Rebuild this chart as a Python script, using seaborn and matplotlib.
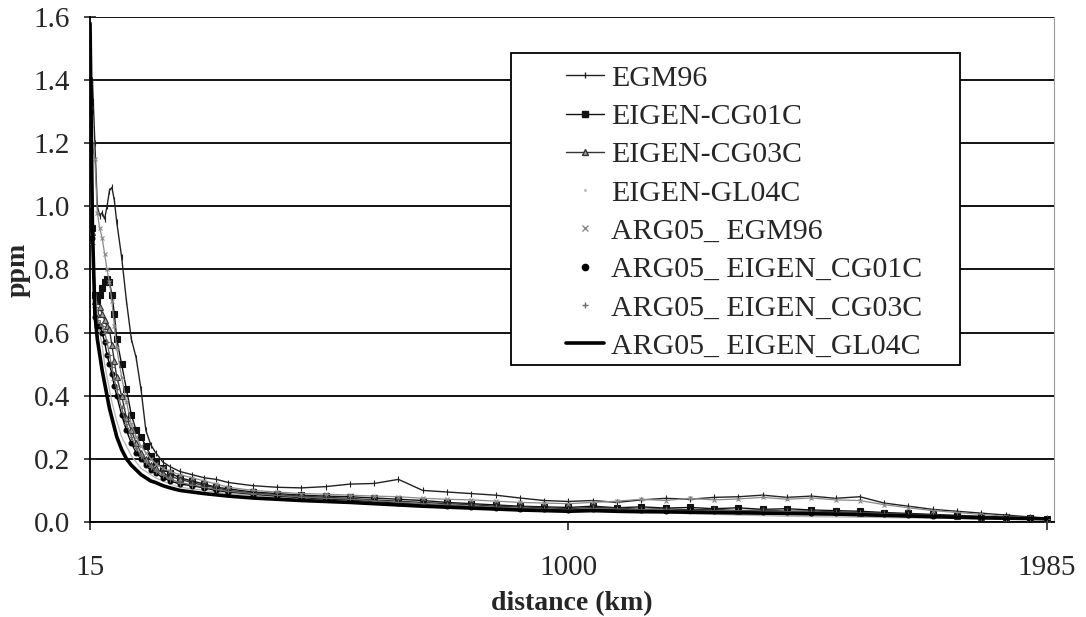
import numpy as np
import pandas as pd
import seaborn as sns
import matplotlib.pyplot as plt
from matplotlib.lines import Line2D
from matplotlib.patches import Rectangle

# distance along profile (km)
distance = [15, 20, 25, 30, 35, 40, 45, 50, 55, 60, 65, 70, 80, 90, 100, 110, 120, 130, 140, 150, 165, 180, 200,
            225, 250, 275, 300, 350, 400, 450, 500, 550, 600, 650, 700, 750, 800, 850, 900, 950, 1000,
            1050, 1100, 1150, 1200, 1250, 1300, 1350, 1400, 1450, 1500, 1550, 1600, 1650, 1700, 1750, 1800,
            1850, 1900, 1950, 1985]

egm96 = [1.15, 1.40, 1.20, 1.00, 0.97, 0.98, 0.96, 1.00, 1.05, 1.06, 1.02, 0.95, 0.84, 0.70, 0.58, 0.52, 0.42,
         0.29, 0.245, 0.22, 0.19, 0.175, 0.16,
         0.15, 0.14, 0.135, 0.125, 0.115, 0.11, 0.108, 0.112, 0.12, 0.122, 0.135, 0.10, 0.095, 0.09, 0.085,
         0.076, 0.068, 0.065, 0.068, 0.062, 0.07, 0.075, 0.072, 0.078, 0.08, 0.085, 0.078, 0.082, 0.075,
         0.08, 0.06, 0.05, 0.04, 0.034, 0.028, 0.022, 0.016, 0.012]
eigen_cg01c = [1.33, 0.93, 0.72, 0.70, 0.72, 0.74, 0.76, 0.77, 0.76, 0.72, 0.66, 0.58, 0.50, 0.42, 0.34, 0.29,
               0.27, 0.24, 0.21, 0.19, 0.17, 0.155, 0.14,
               0.13, 0.12, 0.11, 0.105, 0.095, 0.09, 0.085, 0.082, 0.08, 0.076, 0.072, 0.068, 0.062, 0.058,
               0.054, 0.05, 0.048, 0.046, 0.05, 0.045, 0.048, 0.044, 0.046, 0.042, 0.045, 0.04, 0.042, 0.038,
               0.036, 0.034, 0.03, 0.027, 0.024, 0.021, 0.018, 0.015, 0.012, 0.01]
eigen_cg03c = [1.18, 0.92, 0.70, 0.66, 0.68, 0.66, 0.64, 0.62, 0.61, 0.56, 0.51, 0.46, 0.40, 0.33, 0.29, 0.25,
               0.22, 0.20, 0.18, 0.17, 0.155, 0.145, 0.135,
               0.125, 0.115, 0.108, 0.10, 0.092, 0.086, 0.082, 0.078, 0.075, 0.07, 0.066, 0.062, 0.058, 0.055,
               0.05, 0.048, 0.045, 0.042, 0.046, 0.044, 0.04, 0.042, 0.038, 0.04, 0.036, 0.038, 0.034, 0.035,
               0.032, 0.03, 0.028, 0.025, 0.022, 0.019, 0.016, 0.014, 0.012, 0.01]
eigen_gl04c = [1.50, 1.00, 0.75, 0.66, 0.60, 0.56, 0.50, 0.46, 0.42, 0.38, 0.35, 0.32, 0.27, 0.24, 0.21, 0.19,
               0.17, 0.16, 0.15, 0.14, 0.13, 0.12, 0.11,
               0.105, 0.10, 0.095, 0.09, 0.084, 0.078, 0.072, 0.068, 0.064, 0.06, 0.056, 0.052, 0.048, 0.044,
               0.04, 0.036, 0.034, 0.032, 0.035, 0.03, 0.028, 0.03, 0.026, 0.024, 0.022, 0.02, 0.018, 0.017,
               0.016, 0.015, 0.014, 0.013, 0.012, 0.012, 0.011, 0.01, 0.01, 0.009]
arg05_egm96 = [1.00, 1.20, 1.15, 0.98, 0.93, 0.90, 0.85, 0.80, 0.76, 0.70, 0.62, 0.55, 0.46, 0.38, 0.31, 0.27,
               0.24, 0.22, 0.20, 0.185, 0.17, 0.16, 0.15,
               0.14, 0.13, 0.12, 0.11, 0.10, 0.095, 0.09, 0.088, 0.085, 0.082, 0.08, 0.075, 0.072, 0.07,
               0.066, 0.062, 0.06, 0.058, 0.062, 0.066, 0.072, 0.068, 0.075, 0.07, 0.073, 0.078, 0.072, 0.076,
               0.07, 0.068, 0.055, 0.045, 0.036, 0.03, 0.024, 0.018, 0.014, 0.011]
arg05_eigen_cg01c = [1.30, 0.90, 0.65, 0.62, 0.62, 0.60, 0.57, 0.53, 0.50, 0.47, 0.43, 0.40, 0.34, 0.29, 0.25,
                     0.22, 0.20, 0.18, 0.165, 0.155, 0.14, 0.13, 0.12,
                     0.115, 0.108, 0.10, 0.095, 0.088, 0.082, 0.077, 0.073, 0.07, 0.065, 0.06, 0.056, 0.052,
                     0.048, 0.045, 0.042, 0.04, 0.038, 0.042, 0.04, 0.038, 0.036, 0.037, 0.035, 0.034, 0.033,
                     0.032, 0.03, 0.028, 0.027, 0.025, 0.022, 0.02, 0.018, 0.015, 0.013, 0.011, 0.01]
arg05_eigen_cg03c = [1.25, 0.88, 0.68, 0.64, 0.63, 0.62, 0.60, 0.57, 0.53, 0.49, 0.45, 0.42, 0.36, 0.31, 0.27,
                     0.235, 0.21, 0.19, 0.175, 0.16, 0.148, 0.136, 0.125,
                     0.118, 0.11, 0.103, 0.097, 0.09, 0.084, 0.079, 0.075, 0.072, 0.067, 0.062, 0.058, 0.054,
                     0.05, 0.047, 0.044, 0.041, 0.039, 0.043, 0.041, 0.039, 0.038, 0.036, 0.036, 0.035, 0.034,
                     0.033, 0.031, 0.029, 0.028, 0.026, 0.023, 0.021, 0.018, 0.016, 0.014, 0.012, 0.01]
arg05_eigen_gl04c = [1.58, 0.93, 0.66, 0.58, 0.53, 0.48, 0.44, 0.40, 0.36, 0.33, 0.30, 0.27, 0.23, 0.20, 0.18,
                     0.165, 0.15, 0.14, 0.13, 0.125, 0.115, 0.108, 0.10,
                     0.095, 0.09, 0.086, 0.082, 0.076, 0.072, 0.068, 0.065, 0.062, 0.058, 0.054, 0.05, 0.047,
                     0.044, 0.041, 0.038, 0.036, 0.034, 0.036, 0.034, 0.033, 0.032, 0.031, 0.03, 0.029, 0.028,
                     0.027, 0.026, 0.025, 0.023, 0.021, 0.019, 0.017, 0.015, 0.013, 0.012, 0.011, 0.01]

series_labels = ["EGM96", "EIGEN-CG01C", "EIGEN-CG03C", "EIGEN-GL04C",
                 "ARG05_ EGM96", "ARG05_ EIGEN_CG01C", "ARG05_ EIGEN_CG03C", "ARG05_ EIGEN_GL04C"]
series_values = [egm96, eigen_cg01c, eigen_cg03c, eigen_gl04c,
                 arg05_egm96, arg05_eigen_cg01c, arg05_eigen_cg03c, arg05_eigen_gl04c]

# long form table for seaborn
df = pd.concat([pd.DataFrame({"distance": distance, "ppm": vals, "series": name})
                for name, vals in zip(series_labels, series_values)], ignore_index=True)

# line style per series: (colour, linewidth, marker, markersize, marker face, show line in legend)
styles = {
    "EGM96": ("#222222", 1.0, "|", 4, "#222222", True),
    "EIGEN-CG01C": ("#111111", 1.0, "s", 4, "#111111", True),
    "EIGEN-CG03C": ("#333333", 1.0, "^", 4, "#999999", True),
    "EIGEN-GL04C": ("#b5b5b5", 0.9, None, 0, "#b5b5b5", False),
    "ARG05_ EGM96": ("#8a8a8a", 0.9, "x", 3.5, "#8a8a8a", False),
    "ARG05_ EIGEN_CG01C": ("#000000", 1.0, "o", 3.5, "#000000", False),
    "ARG05_ EIGEN_CG03C": ("#6a6a6a", 0.9, "+", 4, "#6a6a6a", False),
    "ARG05_ EIGEN_GL04C": ("#000000", 2.6, None, 0, "#000000", True),
}

sns.set_style("white")
plt.rcParams['font.family'] = ['Liberation Serif', 'DejaVu Serif']

fig = plt.figure(figsize=(10.86, 6.17), dpi=100)
ax = fig.add_axes([0.0829, 0.154, 0.8877, 0.8185])

for i, name in enumerate(series_labels):
    color, lw, marker, ms, mfc, _ = styles[name]
    sub = df[df["series"] == name]
    sns.lineplot(data=sub, x="distance", y="ppm", ax=ax, color=color, linewidth=lw,
                 marker=marker, markersize=ms, markerfacecolor=mfc, markeredgecolor=color,
                 markeredgewidth=0.8, legend=False, zorder=3 + i)

ax.set_xlim(15, 2000)
ax.set_ylim(0, 1.6)
ax.set_xticks([15, 1000, 1985])
ax.set_yticks(np.arange(0, 1.61, 0.2))
ax.yaxis.set_major_formatter('{x:.1f}')
ax.grid(axis="y", color="black", linewidth=1.3, zorder=1)
ax.set_axisbelow(True)

ax.spines["top"].set_visible(False)
ax.spines["right"].set_color("#999999")
ax.spines["right"].set_linewidth(0.8)
ax.spines["right"].set_linestyle((0, (1, 1)))
ax.spines["left"].set_color("black")
ax.spines["left"].set_linewidth(1.3)
ax.spines["bottom"].set_color("black")
ax.spines["bottom"].set_linewidth(1.3)

ax.tick_params(axis="y", direction="inout", length=9, width=1.2, labelsize=21, pad=10, left=True)
ax.tick_params(axis="x", direction="out", length=6, width=1.2, labelsize=21, pad=18, bottom=True)

ax.set_xlabel("distance (km)", fontsize=20, fontweight="bold", labelpad=7)
ax.set_ylabel("ppm", fontsize=20, fontweight="bold", labelpad=2)

# legend box with its frame
ax.add_patch(Rectangle((0.4367, 0.311), 0.4658, 0.6177, transform=ax.transAxes,
                       facecolor="white", edgecolor="black", linewidth=1.3, zorder=20))

handles = []
for name in series_labels:
    color, lw, marker, ms, mfc, show_line = styles[name]
    handles.append(Line2D([], [], color=color, linewidth=lw if show_line else 0,
                          linestyle="-" if show_line else "none",
                          marker=marker if marker else (None if show_line else "."),
                          markersize=ms + 1 if marker else 2,
                          markerfacecolor=mfc, markeredgecolor=color))

leg = ax.legend(handles, series_labels, loc="upper left", bbox_to_anchor=(0.494, 0.905),
                frameon=False, fontsize=21.5, handlelength=1.27, handletextpad=0.23,
                labelspacing=0.38, borderpad=0, borderaxespad=0)
leg.set_zorder(21)

fig.savefig("out.png", dpi=100)
